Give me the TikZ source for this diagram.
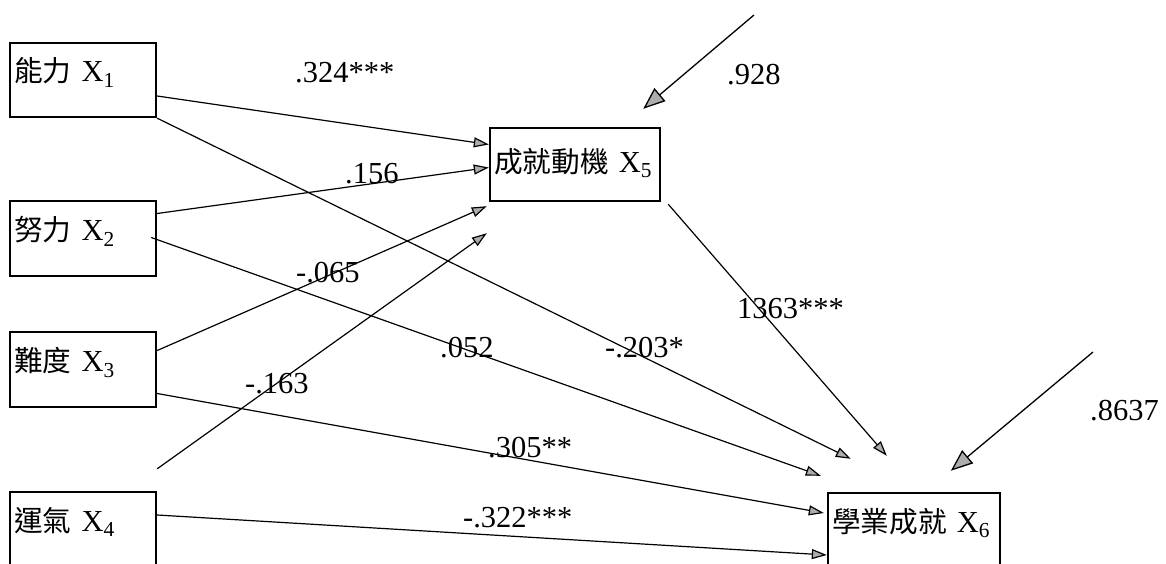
\documentclass[tikz,border=0pt]{standalone}
\usepackage{fontspec}
\setmainfont{Liberation Serif}
\newfontfamily\cjk[Scale=0.94]{Noto Sans CJK TC}
\usetikzlibrary{arrows.meta}

\begin{document}
\begin{tikzpicture}[
  x=1pt, y=-1pt, font=\fontsize{30.5}{36}\selectfont,
  b/.style={draw, line width=2.4pt, inner xsep=4pt, inner ysep=0pt, align=left, text height=26pt, text depth=22pt},
  lb/.style={anchor=base west, inner sep=0pt},
  pf/.style={line width=1.2pt, -{Triangle[length=15pt, width=10pt, fill=gray!65]}},
  ef/.style={line width=1.3pt, -{Triangle[length=22pt, width=17pt, fill=gray!65]}}
]
\useasboundingbox (0,0) rectangle (1166,564);
% variables
\node[b, minimum width=146pt, minimum height=74pt, text width=138pt] (x1) at (83,80) {\mbox{{\cjk 能力} X\textsubscript{1}}};
\node[b, minimum width=146pt, minimum height=75pt, text width=138pt] (x2) at (83,238.5) {\mbox{{\cjk 努力} X\textsubscript{2}}};
\node[b, minimum width=146pt, minimum height=75pt, text width=138pt] (x3) at (83,369.5) {\mbox{{\cjk 難度} X\textsubscript{3}}};
\node[b, minimum width=146pt, minimum height=74pt, text width=138pt] (x4) at (83,529) {\mbox{{\cjk 運氣} X\textsubscript{4}}};
\node[b, minimum width=170pt, minimum height=73pt, text width=162pt, text depth=11pt] (x5) at (575,164.5) {\mbox{{\cjk 成就動機} X\textsubscript{5}}};
\node[b, minimum width=172pt, minimum height=74pt, text width=164pt] (x6) at (914,530) {\mbox{{\cjk 學業成就} X\textsubscript{6}}};
\coordinate (e5) at (754,15);
\coordinate (e6) at (1093,352);
% paths
\draw[pf] ([yshift=-16pt]x1.east) -- ([yshift=20pt]x5.west);
\draw[pf] (x1.south east) -- ([xshift=24pt,yshift=33pt]x6.north west);
\draw[pf] ([yshift=25pt]x2.east) -- ([yshift=-3pt]x5.west);
\draw[pf] ([xshift=-6pt,yshift=1pt]x2.east) -- ([xshift=-6pt,yshift=16pt]x6.north west);
\draw[pf] ([yshift=19pt]x3.east) -- ([xshift=-2pt,yshift=-4pt]x5.south west);
\draw[pf] ([yshift=-24pt]x3.east) -- ([xshift=-3pt,yshift=17pt]x6.west);
\draw[pf] ([yshift=22pt]x4.north east) -- ([xshift=-2pt,yshift=-31pt]x5.south west);
\draw[pf] ([yshift=14pt]x4.east) -- ([yshift=-25pt]x6.west);
\draw[pf] ([xshift=7pt,yshift=-2pt]x5.south east) -- ([xshift=60pt,yshift=36pt]x6.north west);
\draw[ef] (e5) -- ([xshift=-18pt,yshift=18pt]x5.north east);
\draw[ef] (e6) -- ([xshift=124pt,yshift=21pt]x6.north west);
% coefficients
\node[lb] (c15) at (295,83) {.324***};
\node[lb] (c25) at (345,183) {.156};
\node[lb] (c35) at (296,282) {-.065};
\node[lb] (c45) at (245,393) {-.163};
\node[lb] (c26) at (440,357) {.052};
\node[lb] (c16) at (605,357) {-.203*};
\node[lb] (c36) at (488,457) {.305**};
\node[lb] (c46) at (463,527) {-.322***};
\node[lb] (c56) at (737,318) {1363***};
\node[lb] (r5) at (727,85) {.928};
\node[lb] (r6) at (1090,420) {.8637};
\end{tikzpicture}
\end{document}
